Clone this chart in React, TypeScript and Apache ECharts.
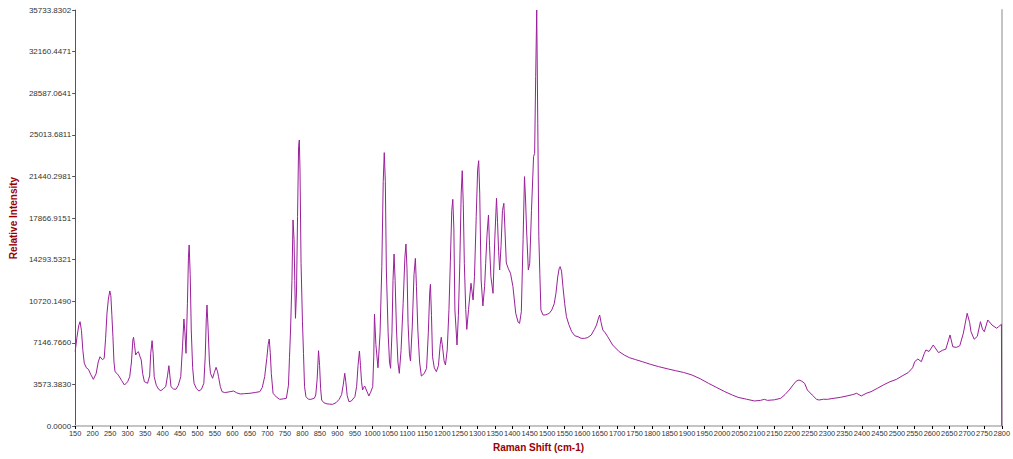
import React, { useEffect, useRef } from "react";
import * as echarts from "echarts";

const ramanShift: number[] = [
  150, 155, 160, 164, 168, 172, 176, 182, 188, 195, 202, 210, 216, 221, 228, 233, 237, 241, 245, 249,
  252, 255, 258, 261, 264, 270, 275, 283, 291, 300, 306, 311, 315, 317, 320, 323, 327, 331, 335, 339,
  343, 348, 357, 363, 366, 370, 373, 376, 382, 389, 395, 402, 409, 414, 418, 421, 424, 431, 438, 445,
  452, 457, 461, 464, 467, 471, 474, 476, 479, 482, 486, 490, 497, 504, 511, 518, 522, 525, 527, 530,
  534, 537, 543, 548, 553, 557, 560, 565, 570, 577, 584, 593, 603, 612, 622, 635, 650, 665, 678, 685,
  692, 698, 702, 705, 708, 711, 716, 725, 735, 745, 754, 760, 763, 766, 770, 773, 776, 778, 780, 783,
  786, 789, 791, 793, 796, 800, 803, 806, 810, 817, 824, 834, 838, 842, 846, 849, 852, 855, 861, 870,
  878, 886, 896, 905, 912, 917, 921, 924, 928, 933, 940, 950, 955, 959, 963, 966, 969, 972, 975, 978,
  984, 990, 995, 1001, 1004, 1006, 1010, 1016, 1022, 1027, 1031, 1034, 1037, 1040, 1045, 1049, 1052, 1056, 1059, 1062,
  1065, 1069, 1073, 1077, 1082, 1088, 1093, 1096, 1099, 1102, 1106, 1109, 1114, 1119, 1123, 1126, 1130, 1135, 1140, 1148,
  1155, 1160, 1164, 1166, 1169, 1172, 1177, 1183, 1189, 1194, 1197, 1201, 1205, 1209, 1214, 1219, 1223, 1227, 1230, 1233,
  1236, 1242, 1246, 1250, 1254, 1257, 1260, 1263, 1267, 1270, 1275, 1282, 1288, 1292, 1297, 1301, 1304, 1307, 1311, 1316,
  1321, 1324, 1328, 1332, 1335, 1339, 1345, 1350, 1355, 1358, 1361, 1364, 1368, 1372, 1376, 1379, 1383, 1389, 1395, 1402,
  1410, 1417, 1421, 1426, 1431, 1435, 1438, 1441, 1446, 1450, 1455, 1461, 1464, 1467, 1470, 1473, 1476, 1479, 1482, 1488,
  1494, 1500, 1506, 1513, 1520, 1525, 1530, 1534, 1537, 1541, 1545, 1550, 1555, 1562, 1570, 1579, 1588, 1597, 1607, 1616,
  1626, 1635, 1641, 1647, 1650, 1654, 1659, 1666, 1673, 1687, 1706, 1720, 1735, 1753, 1772, 1795, 1819, 1843, 1867, 1890,
  1914, 1938, 1961, 1985, 2008, 2030, 2046, 2070, 2093, 2110, 2121, 2130, 2150, 2168, 2180, 2192, 2205, 2212, 2220, 2228,
  2236, 2244, 2258, 2270, 2277, 2290, 2301, 2320, 2338, 2360, 2374, 2385, 2398, 2412, 2426, 2445, 2461, 2480, 2499, 2515,
  2532, 2545, 2551, 2560, 2570, 2578, 2583, 2592, 2604, 2619, 2630, 2640, 2652, 2660, 2670, 2680, 2690, 2701, 2708, 2712,
  2721, 2730, 2739, 2745, 2750, 2760, 2772, 2785, 2791, 2799, 2800,
];

const intensity: number[] = [
  6400, 7600, 8600, 8960, 8200, 6500, 5400, 5000, 4870, 4400, 4010, 4500, 5500, 5950, 5700, 5815, 7500, 9700, 10900, 11600,
  11200, 9500, 7670, 5500, 4665, 4500, 4300, 3900, 3520, 3800, 4235, 5500, 7400, 7620, 6900, 6100, 6300, 6380, 6000, 5670,
  4500, 3805, 3670, 4300, 6200, 7330, 6200, 4235, 3500, 3150, 3035, 3200, 3380, 4300, 5180, 4300, 3380, 3180, 3150, 3500,
  4235, 6800, 9190, 8000, 6245, 10500, 14500, 15550, 13000, 8250, 5000, 3670, 3200, 3005, 3150, 3670, 6000, 9200, 10390, 8500,
  5500, 4525, 4100, 4600, 5040, 4700, 4235, 3400, 2950, 2880, 2895, 2950, 3005, 2850, 2750, 2780, 2810, 2880, 2950, 3300,
  4235, 5800, 7000, 7470, 6300, 4500, 2810, 2500, 2290, 2330, 2380, 3500, 5900, 8250, 12500, 17700, 16000, 12500, 9250, 11500,
  18000, 24000, 24570, 22000, 13980, 9000, 6245, 3380, 2520, 2300, 2290, 2380, 2660, 4000, 6470, 5200, 3200, 2230, 2000, 1900,
  1880, 1860, 2000, 2290, 2700, 3600, 4525, 3800, 2600, 2090, 2150, 2520, 3400, 5200, 6440, 5200, 3800, 3090, 3300, 3435,
  3000, 2580, 2900, 3380, 6000, 9600, 7000, 5000, 8000, 13690, 21000, 23480, 21000, 13400, 8000, 5500, 4955, 8000, 12500, 14775,
  12500, 8250, 5500, 4525, 6500, 10540, 14500, 15630, 13500, 8820, 6200, 5580, 8500, 13000, 14400, 12000, 8250, 5500, 4290, 4500,
  4955, 8000, 11500, 12170, 9500, 5955, 5000, 4665, 5200, 7000, 7620, 6700, 5600, 5240, 6530, 10000, 14110, 18500, 19470, 17000,
  9965, 6960, 9500, 13980, 20000, 21930, 19000, 13980, 10000, 8300, 10000, 12260, 10825, 12825, 18000, 22000, 22790, 20000, 12540, 10310,
  12000, 13980, 16500, 18125, 15500, 12825, 11400, 15980, 19560, 17500, 15000, 13400, 15500, 18500, 19130, 17000, 14000, 13500, 13120, 11970,
  9680, 8900, 8820, 9820, 16000, 21420, 19500, 16840, 13400, 13980, 18500, 23130, 23420, 30000, 35733.83, 26000, 16260, 13000, 9965, 9535,
  9535, 9600, 9680, 9965, 10500, 11400, 12800, 13500, 13690, 13300, 11970, 10500, 9390, 8700, 8100, 7750, 7670, 7530, 7530, 7600,
  7820, 8300, 8675, 9300, 9535, 8900, 8250, 8000, 7670, 6960, 6380, 6100, 5870, 5700, 5525, 5300, 5095, 4920, 4750, 4600,
  4380, 4050, 3670, 3300, 2950, 2650, 2460, 2300, 2150, 2200, 2290, 2200, 2250, 2380, 2700, 3090, 3600, 3850, 3950, 3850,
  3670, 3090, 2660, 2300, 2230, 2300, 2290, 2380, 2460, 2600, 2700, 2810, 2580, 2800, 2950, 3250, 3520, 3800, 4010, 4300,
  4580, 5000, 5525, 5755, 5525, 6200, 6530, 6400, 6960, 6300, 6500, 6600, 7820, 6810, 6750, 6900, 7960, 9680, 8900, 8100,
  7450, 7700, 8960, 8300, 8100, 9105, 8675, 8400, 8530, 8735, 0,
];

const yTickLabels: string[] = [
  "0.0000", "3573.3830", "7146.7660", "10720.1490", "14293.5321", "17866.9151",
  "21440.2981", "25013.6811", "28587.0641", "32160.4471", "35733.8302",
];

const X_MIN = 150;
const X_MAX = 2800;
const X_STEP = 50;
const Y_MAX = 35733.8302;
const Y_STEP = Y_MAX / 10;

export default function App() {
  const ref = useRef<HTMLDivElement>(null);
  useEffect(() => {
    if (!ref.current) return;
    const chart = echarts.init(ref.current, null, { renderer: "svg" });
    const data = ramanShift.map((x, i) => [x, intensity[i]]);
    const font = "Liberation Sans, Arial, sans-serif";
    const nameStyle = { fontSize: 10, fontWeight: "bold", color: "#990000", fontFamily: font };
    chart.setOption({
      animation: false,
      backgroundColor: "#fff",
      grid: { left: 70, right: 7, top: 10, bottom: 33, containLabel: false },
      xAxis: [
        {
          type: "value",
          min: X_MIN,
          max: X_MAX,
          interval: X_STEP,
          name: "Raman Shift (cm-1)",
          nameLocation: "middle",
          nameGap: 16,
          nameTextStyle: nameStyle,
          axisLine: { show: true, onZero: false, lineStyle: { color: "#000", width: 1 } },
          axisTick: { show: true, length: 3, lineStyle: { color: "#000" } },
          axisLabel: {
            fontSize: 7.4,
            color: "#333",
            fontFamily: font,
            margin: 4,
            hideOverlap: false,
            showMinLabel: true,
            showMaxLabel: true,
            formatter: (v: number) => String(Math.round(v)),
          },
          splitLine: { show: false },
        },
        {
          type: "value",
          position: "top",
          min: X_MIN,
          max: X_MAX,
          axisLine: { show: true, lineStyle: { color: "#c4c4c4", width: 2 } },
          axisTick: { show: false },
          axisLabel: { show: false },
          splitLine: { show: false },
        },
      ],
      yAxis: [
        {
          type: "value",
          min: 0,
          max: Y_MAX,
          interval: Y_STEP,
          name: "Relative Intensity",
          nameLocation: "middle",
          nameGap: 50,
          nameTextStyle: nameStyle,
          axisLine: { show: true, lineStyle: { color: "#555", width: 1 } },
          axisTick: { show: true, length: 3, lineStyle: { color: "#555" } },
          axisLabel: {
            fontSize: 8,
            color: "#333",
            fontFamily: font,
            margin: 4,
            formatter: (v: number) => yTickLabels[Math.round(v / Y_STEP)] ?? "",
          },
          splitLine: { show: false },
        },
        {
          type: "value",
          position: "right",
          min: 0,
          max: Y_MAX,
          axisLine: { show: true, lineStyle: { color: "#c4c4c4", width: 2 } },
          axisTick: { show: false },
          axisLabel: { show: false },
          splitLine: { show: false },
        },
      ],
      series: [
        {
          type: "line",
          xAxisIndex: 0,
          yAxisIndex: 0,
          data,
          symbol: "none",
          smooth: false,
          lineStyle: { color: "#9a1f9a", width: 1 },
        },
      ],
    });
    return () => chart.dispose();
  }, []);
  return (
    <div
      ref={ref}
      style={{ position: "fixed", left: 0, top: 0, width: 1013, height: 459 }}
    />
  );
}
